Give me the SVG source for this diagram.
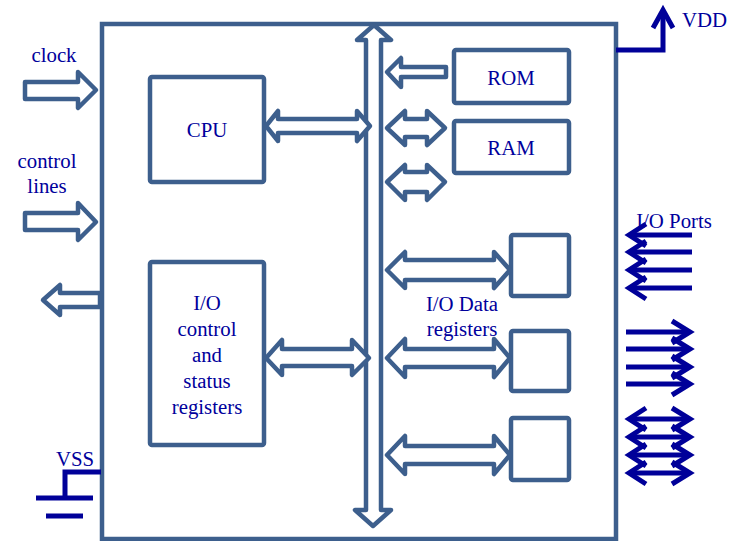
<svg xmlns="http://www.w3.org/2000/svg" width="738" height="541" viewBox="0 0 738 541">
  <style>
    .frame { fill: none; stroke: #3d5f8d; stroke-width: 4.5; }
    .box { fill: #ffffff; stroke: #3d5f8d; stroke-width: 4.5; }
    .hollow { fill: #ffffff; stroke: #3d5f8d; stroke-width: 4.5; stroke-linejoin: round; }
    .wire { fill: none; stroke: #000099; stroke-width: 5; }
    .tip { fill: none; stroke: #000099; stroke-width: 5; stroke-linejoin: miter; stroke-linecap: butt; }
    .lbl { font-family: "Liberation Serif", "Times New Roman", serif; font-size: 20.8px; fill: #00009c; text-anchor: middle; }
    .lbl-start { font-family: "Liberation Serif", "Times New Roman", serif; font-size: 20.8px; fill: #00009c; text-anchor: start; }
  </style>

  <rect width="738" height="541" fill="#ffffff"/>

  <!-- chip outline -->
  <g id="chip">
    <rect class="frame" x="102" y="24" width="514" height="515"/>
  </g>

  <!-- internal blocks -->
  <g id="cpu">
    <rect class="box" x="150" y="77" width="114" height="105" rx="2"/>
    <text class="lbl" x="207" y="137">CPU</text>
  </g>
  <g id="io-control">
    <rect class="box" x="150" y="262" width="114" height="183" rx="2"/>
    <text class="lbl" x="207" y="310">I/O</text>
    <text class="lbl" x="207" y="336">control</text>
    <text class="lbl" x="207" y="362">and</text>
    <text class="lbl" x="207" y="388">status</text>
    <text class="lbl" x="207" y="414">registers</text>
  </g>
  <g id="rom">
    <rect class="box" x="454" y="50" width="115" height="53" rx="2"/>
    <text class="lbl" x="511" y="85">ROM</text>
  </g>
  <g id="ram">
    <rect class="box" x="454" y="121" width="115" height="52" rx="2"/>
    <text class="lbl" x="511" y="155">RAM</text>
  </g>
  <g id="io-data-1">
    <rect class="box" x="511" y="235" width="58" height="61" rx="2"/>
  </g>
  <g id="io-data-2">
    <rect class="box" x="511" y="331" width="58" height="60" rx="2"/>
  </g>
  <g id="io-data-3">
    <rect class="box" x="511" y="418" width="58" height="62" rx="2"/>
  </g>
  <g id="io-data-label">
    <text class="lbl" x="462" y="311">I/O Data</text>
    <text class="lbl" x="462" y="336">registers</text>
  </g>

  <!-- external labels -->
  <g id="labels">
    <text class="lbl" x="54" y="62">clock</text>
    <text class="lbl" x="47" y="168">control</text>
    <text class="lbl" x="47" y="193">lines</text>
    <text class="lbl-start" x="682" y="27">VDD</text>
    <text class="lbl-start" x="56" y="466">VSS</text>
    <text class="lbl" x="674" y="228">I/O Ports</text>
  </g>

  <g id="connectors">
    <!-- internal bus -->
    <path class="hollow" d="M374,25 L391,40 L381,40 L381,510 L391,510 L373,526 L355,510 L366,510 L366,40 L357,40 Z"/>

    <!-- CPU to bus -->
    <path class="hollow" d="M266,126 L278,111 L278,119 L357,119 L357,111 L370,126 L357,141 L357,133 L278,133 L278,141 Z"/>
    <!-- I/O control to bus -->
    <path class="hollow" d="M266,358 L282,340 L282,349 L352,349 L352,340 L369,358 L352,375 L352,366 L282,366 L282,375 Z"/>

    <!-- ROM to bus -->
    <path class="hollow" d="M387,72 L401,58 L401,67 L446,67 L446,77 L401,77 L401,87 Z"/>
    <!-- RAM and spare -->
    <path class="hollow" d="M387,128 L405,111 L405,119 L427,119 L427,111 L445,128 L427,145 L427,137 L405,137 L405,145 Z"/>
    <path class="hollow" d="M387,182 L405,165 L405,172 L427,172 L427,165 L445,182 L427,200 L427,192 L405,192 L405,200 Z"/>

    <!-- I/O data registers to bus -->
    <path class="hollow" d="M387,270 L405,252 L405,260 L494,260 L494,252 L510,270 L494,288 L494,280 L405,280 L405,288 Z"/>
    <path class="hollow" d="M387,358 L405,339 L405,349 L494,349 L494,339 L510,358 L494,377 L494,367 L405,367 L405,377 Z"/>
    <path class="hollow" d="M387,455 L405,436 L405,446 L494,446 L494,436 L510,455 L494,474 L494,464 L405,464 L405,474 Z"/>

    <!-- inputs on the left -->
    <path class="hollow" d="M25,82 L78,82 L78,72 L96,90 L78,108 L78,99 L25,99 Z"/>
    <path class="hollow" d="M25,213 L78,213 L78,203 L96,222 L78,240 L78,230 L25,230 Z"/>
    <!-- output on the left -->
    <path class="hollow" d="M43,300 L60,285 L60,293 L100,293 L100,307 L60,307 L60,315 Z"/>

    <!-- VDD supply -->
    <polyline class="wire" points="616,50 663,50 663,12"/>
    <polyline class="tip" points="653,28 663,10 673,28"/>

    <!-- VSS ground -->
    <polyline class="wire" points="101,472 65,472 65,498"/>
    <line class="wire" x1="36" y1="498" x2="93" y2="498"/>
    <line class="wire" x1="46" y1="516" x2="83" y2="516"/>

    <!-- I/O port inputs -->
    <g>
      <line class="wire" x1="630" y1="235" x2="692" y2="235"/>
      <line class="wire" x1="630" y1="252" x2="692" y2="252"/>
      <line class="wire" x1="630" y1="270" x2="692" y2="270"/>
      <line class="wire" x1="630" y1="288" x2="692" y2="288"/>
      <polyline class="tip" points="646,224 629,235 646,246"/>
      <polyline class="tip" points="646,241 629,252 646,263"/>
      <polyline class="tip" points="646,259 629,270 646,281"/>
      <polyline class="tip" points="646,277 629,288 646,299"/>
    </g>
    <!-- I/O port outputs -->
    <g>
      <line class="wire" x1="626" y1="332" x2="689" y2="332"/>
      <line class="wire" x1="626" y1="349" x2="689" y2="349"/>
      <line class="wire" x1="626" y1="367" x2="689" y2="367"/>
      <line class="wire" x1="626" y1="384" x2="689" y2="384"/>
      <polyline class="tip" points="672,321 690,332 672,343"/>
      <polyline class="tip" points="672,338 690,349 672,360"/>
      <polyline class="tip" points="672,356 690,367 672,378"/>
      <polyline class="tip" points="672,373 690,384 672,395"/>
    </g>
    <!-- I/O port bidirectional -->
    <g>
      <line class="wire" x1="630" y1="419" x2="689" y2="419"/>
      <line class="wire" x1="630" y1="437" x2="689" y2="437"/>
      <line class="wire" x1="630" y1="455" x2="689" y2="455"/>
      <line class="wire" x1="630" y1="473" x2="689" y2="473"/>
      <polyline class="tip" points="646,408 629,419 646,430"/>
      <polyline class="tip" points="646,426 629,437 646,448"/>
      <polyline class="tip" points="646,444 629,455 646,466"/>
      <polyline class="tip" points="646,462 629,473 646,484"/>
      <polyline class="tip" points="672,408 690,419 672,430"/>
      <polyline class="tip" points="672,426 690,437 672,448"/>
      <polyline class="tip" points="672,444 690,455 672,466"/>
      <polyline class="tip" points="672,462 690,473 672,484"/>
    </g>
  </g>
</svg>
